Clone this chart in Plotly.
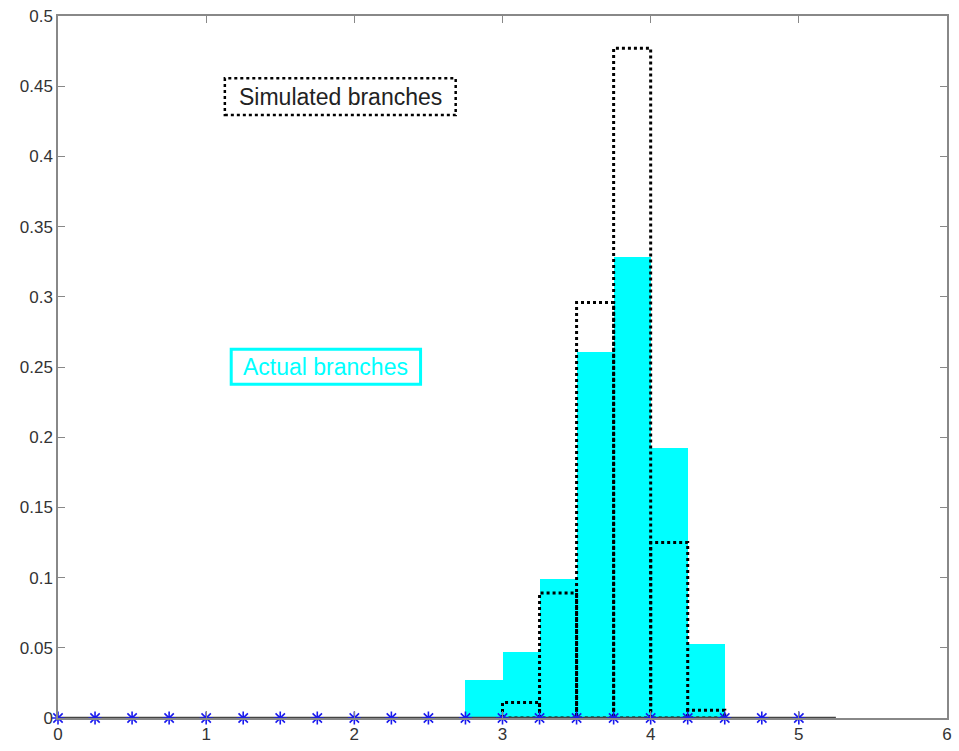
import plotly.graph_objects as go

# Histogram data (bin width 0.25)
bin_centers = [2.875, 3.125, 3.375, 3.625, 3.875, 4.125, 4.375]
actual_branches = [0.027, 0.047, 0.099, 0.261, 0.328, 0.192, 0.053]
simulated_branches = [0.0, 0.011, 0.089, 0.296, 0.477, 0.125, 0.0055]
bin_width = 0.25

# baseline markers (bin edges)
marker_x = [i * 0.25 for i in range(21)]
baseline_x = [0, 5.25]

fig = go.Figure()

fig.add_trace(go.Bar(x=bin_centers, y=actual_branches, width=bin_width,
                     marker=dict(color="#00FFFF", line=dict(width=0)),
                     showlegend=False))

# dotted outlines of simulated histogram
ox, oy = [], []
for c, v in zip(bin_centers, simulated_branches):
    if v <= 0:
        continue
    l, r = c - bin_width / 2, c + bin_width / 2
    ox += [l, l, r, r, l, None]
    oy += [0, v, v, 0, 0, None]
fig.add_trace(go.Scatter(x=ox, y=oy, mode="lines",
                         line=dict(color="black", width=3, dash="dot"),
                         showlegend=False))

fig.add_trace(go.Scatter(x=baseline_x, y=[0, 0], mode="lines", cliponaxis=False,
                         line=dict(color="#444444", width=2.5), showlegend=False))
fig.add_trace(go.Scatter(x=marker_x, y=[0] * len(marker_x), mode="markers",
                         cliponaxis=False,
                         marker=dict(symbol="asterisk-open", size=11, color="#1a1aee",
                                     opacity=1,
                                     line=dict(color="#1a1aee", width=1.6)),
                         showlegend=False))

fig.add_shape(type="rect", x0=1.126, x1=2.684, y0=0.4294, y1=0.4556,
              line=dict(color="black", width=2.5, dash="dot"))
fig.add_annotation(x=1.905, y=0.4425, text="Simulated branches", showarrow=False,
                   font=dict(family="Liberation Sans, Arial", size=23, color="#222222"))
fig.add_shape(type="rect", x0=1.169, x1=2.447, y0=0.2378, y1=0.2626,
              line=dict(color="#00FFFF", width=3))
fig.add_annotation(x=1.808, y=0.2502, text="Actual branches", showarrow=False,
                   font=dict(family="Liberation Sans, Arial", size=23, color="#00FFFF"))

axis_common = dict(showline=True, linecolor="#888888", linewidth=1.5, mirror="all",
                   ticks="inside", ticklen=7, tickcolor="#888888", tickwidth=1,
                   showgrid=False, zeroline=False, ticklabeloverflow="allow",
                   tickfont=dict(family="Liberation Sans, Arial", size=17, color="#333333"))

fig.update_xaxes(range=[0, 6], tickvals=[0, 1, 2, 3, 4, 5, 6], **axis_common)
fig.update_yaxes(range=[0, 0.5], dtick=0.05, tickformat="~g", **axis_common)

fig.update_layout(width=959, height=751, plot_bgcolor="white", paper_bgcolor="white",
                  margin=dict(l=58, r=7, t=16, b=31), bargap=0, showlegend=False)

fig.write_html("out.html", config={"displayModeBar": False},
               post_script="document.body.style.margin='0';document.body.style.overflow='hidden';")
